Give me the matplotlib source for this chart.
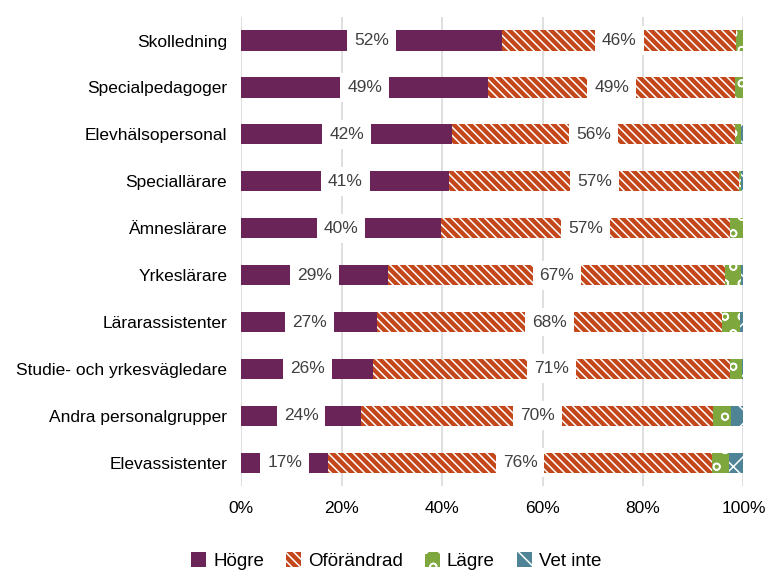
import numpy as np
import matplotlib.pyplot as plt

plt.rcParams['font.family'] = ['Liberation Sans', 'DejaVu Sans']
plt.rcParams['hatch.linewidth'] = 1.1

# data (andel i procent)
groups = ["Skolledning", "Specialpedagoger", "Elevhälsopersonal", "Speciallärare",
          "Ämneslärare", "Yrkeslärare", "Lärarassistenter",
          "Studie- och yrkesvägledare", "Andra personalgrupper", "Elevassistenter"]
hogre = [52.0, 49.2, 42.0, 41.4, 39.8, 29.3, 27.1, 26.3, 23.9, 17.3]
oforandrad = [46.6, 49.2, 56.3, 57.8, 57.6, 67.1, 68.6, 71.0, 70.1, 76.5]
lagre = [1.4, 1.6, 1.3, 0.4, 2.6, 3.2, 3.6, 2.4, 3.6, 3.3]
vet_inte = [0.0, 0.0, 0.4, 0.4, 0.0, 0.4, 0.7, 0.3, 2.4, 2.9]
hogre_lbl = ["52%", "49%", "42%", "41%", "40%", "29%", "27%", "26%", "24%", "17%"]
of_lbl = ["46%", "49%", "56%", "57%", "57%", "67%", "68%", "71%", "70%", "76%"]

series = [
    ("Högre", hogre, "#6B2458", ""),
    ("Oförändrad", oforandrad, "#C4471C", "\\\\\\\\"),
    ("Lägre", lagre, "#7EA83E", "o"),
    ("Vet inte", vet_inte, "#4E8495", "x"),
]

fig = plt.figure(figsize=(7.68, 5.7), dpi=100)
ax = fig.add_axes([0.314, 0.147, 0.654, 0.823])

y = np.arange(len(groups))
left = np.zeros(len(groups))
for name, vals, col, hatch in series:
    vals = np.array(vals)
    ax.barh(y, vals, left=left, height=0.43, color=col, edgecolor="white" if hatch else col,
            linewidth=0, hatch=hatch, label=name, zorder=2)
    lbls = {"Högre": hogre_lbl, "Oförändrad": of_lbl}.get(name)
    if lbls:
        for i in range(len(groups)):
            ax.text(left[i] + vals[i] / 2, y[i], lbls[i], ha="center", va="center",
                    fontsize=12.5, color="#404040", zorder=3,
                    bbox=dict(facecolor="white", edgecolor="none", pad=5))
    left += vals

ax.set_xlim(0, 100)
ax.set_ylim(len(groups) - 0.5, -0.5)
ax.set_yticks(y)
ax.set_yticklabels(groups, fontsize=12.5)
ax.set_xticks(np.arange(0, 101, 20))
ax.set_xticklabels([f"{v}%" for v in range(0, 101, 20)], fontsize=12.5)
ax.tick_params(axis="y", length=0, pad=10)
ax.tick_params(axis="x", length=0, pad=11)
ax.grid(axis="x", color="#D9D9D9", linewidth=1.2, zorder=0)
for s in ax.spines.values():
    s.set_visible(False)

ax.legend(loc="center", bbox_to_anchor=(0.309, -0.16), ncol=4, frameon=False,
          fontsize=13.5, handlelength=0.8, handleheight=0.8, columnspacing=1.2,
          handletextpad=0.35)

fig.savefig("out.png", dpi=100)
